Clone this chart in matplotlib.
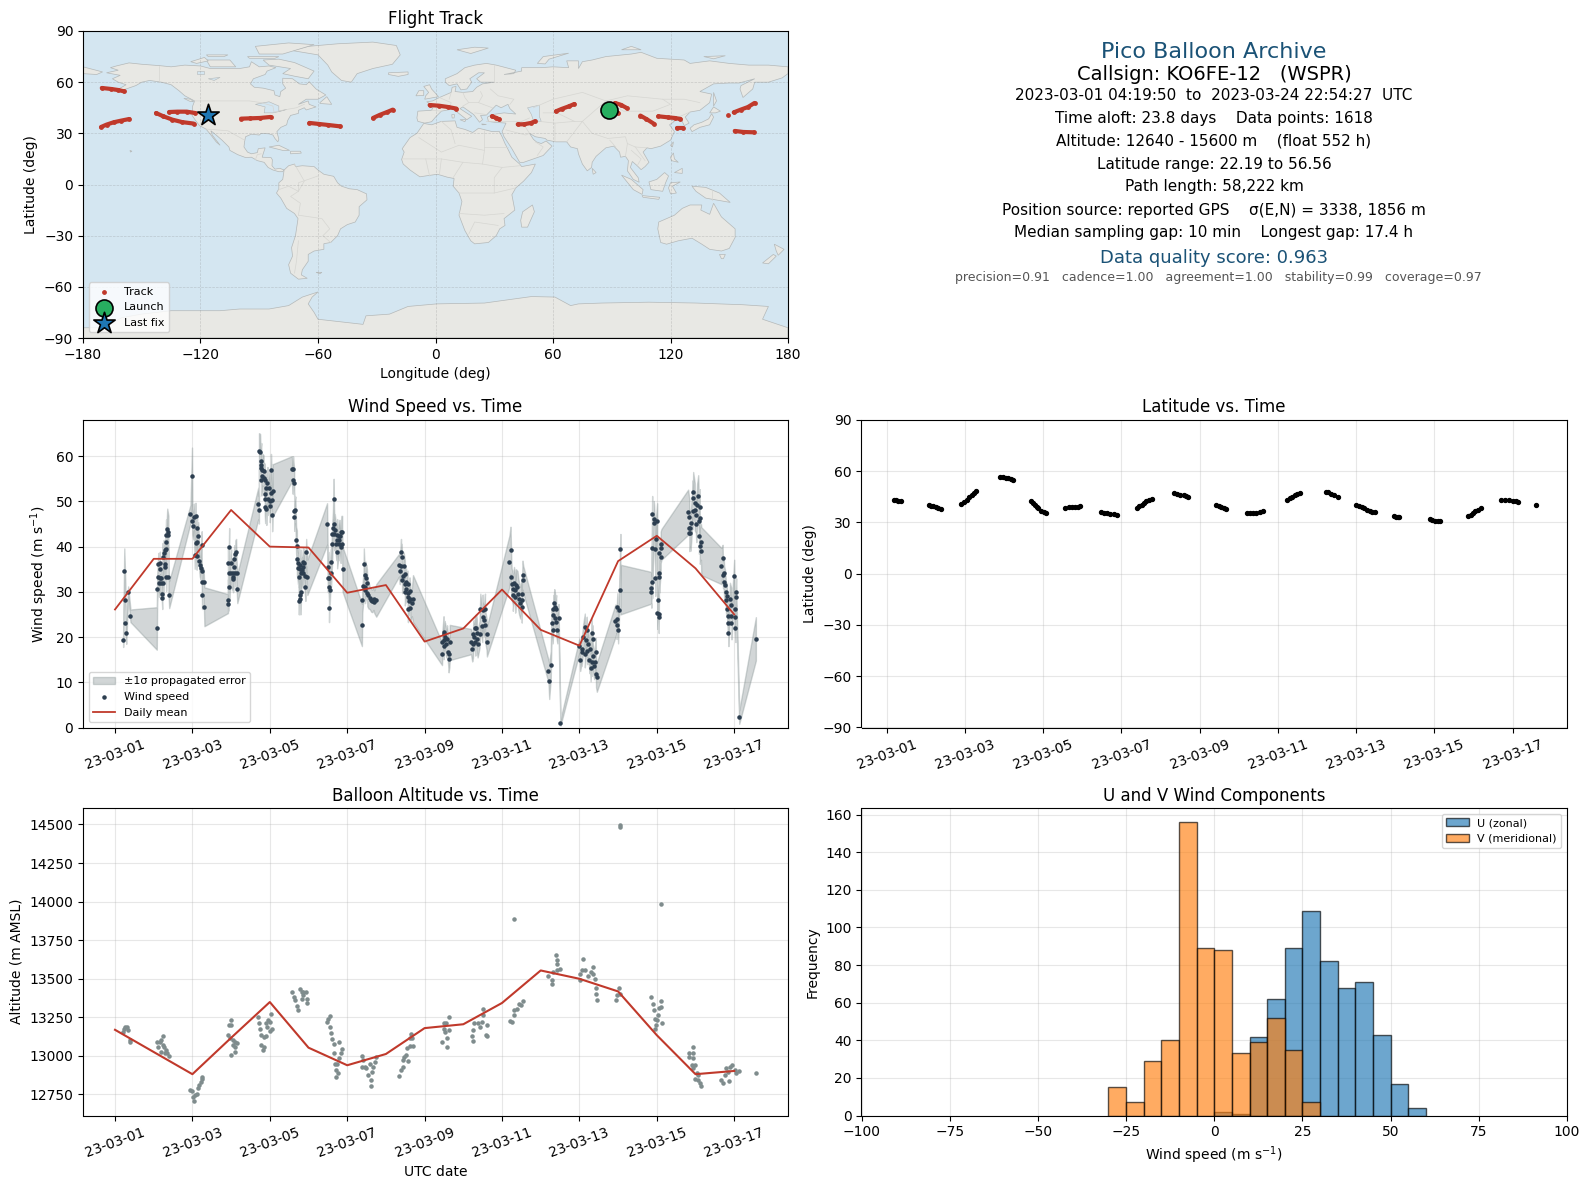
# -*- coding: utf-8 -*-
"""
Pico balloon flight summary
"""
import numpy as np
import pandas as pd
from matplotlib import pyplot as plt
from matplotlib.patches import Polygon

#%%======================================================
# flight track, one list per stretch (lon, lat)
track_segments = [
    [(-170.4, 56.6), (-165.6, 56), (-162, 55.4), (-159, 54.6)],
    [(-170.8, 33.7), (-168, 35.1), (-164.3, 36.5), (-160.7, 37.4), (-156.4, 38.4)],
    [(-142.7, 41.9), (-139, 40), (-134.3, 38), (-129.4, 36.6), (-123.4, 35.7)],
    [(-136, 42.5), (-131.8, 42.7), (-127, 42.7), (-122.7, 41.9)],
    [(-99.3, 38.6), (-94.5, 38.8), (-89.7, 39), (-84.2, 39.6)],
    [(-64.4, 36.1), (-59.6, 35.5), (-54.8, 34.9), (-48.8, 34.1)],
    [(-31.9, 39), (-28.3, 40.9), (-24.7, 42.5), (-21.8, 43.9)],
    [(-3, 46.6), (1.8, 46.2), (6.6, 45.4), (10.7, 44.5)],
    [(28.8, 40), (30.7, 39.2), (32.6, 38.2)],
    [(42, 35.3), (45.1, 35.3), (48.8, 36.1), (50.7, 37)],
    [(61.5, 42.9), (64.4, 44.3), (68, 45.8), (70.9, 47.2)],
    [(91.6, 47.8), (94.5, 46.8), (97.6, 44.9)],
    [(93.3, 41.9), (91.5, 43.5)],
    [(104.6, 40.4), (107.7, 38.4), (111.4, 35.7)],
    [(113.8, 40), (118.6, 39.4), (122.2, 39), (125.1, 38.4)],
    [(123.4, 33.1), (126.3, 33.1)],
    [(152.3, 42.3), (155.9, 43.9), (159.5, 45.4), (162.9, 47.8)],
    [(149.4, 40.8)],
    [(152.8, 31.4), (157.1, 30.8), (162.4, 30.6)],
]
launch_pos = (88.5, 43.5)
last_pos = (-116, 40.6)

# coarse coastlines (lon, lat)
north_america = [(-168, 65.5), (-164, 66.5), (-162, 67), (-166, 68.5), (-163, 69.5), (-156.5, 71.3), (-150, 70.5), (-141, 69.7), (-135, 69), (-128, 70), (-120, 69.5), (-115, 68), (-108, 68), (-100, 68), (-95, 69), (-94, 72), (-90, 69), (-85, 69.5), (-81.5, 68.5), (-86, 66.5), (-87, 64.5), (-93, 62), (-94.5, 59), (-92.5, 57), (-88, 56.5), (-82.5, 55), (-82, 52.5), (-79.5, 51.5), (-79, 54.5), (-76.5, 56.5), (-78, 59), (-78, 62.3), (-73, 62), (-69.5, 59), (-66, 58.5), (-64.5, 60.3), (-61, 56), (-56, 52.5), (-60, 50), (-66, 50), (-70, 47), (-65, 49), (-64.5, 47), (-61, 45.5), (-66, 43.7), (-67, 45), (-70, 43.5), (-70, 41.7), (-74, 40.5), (-75.5, 37.5), (-76, 35), (-79, 33.5), (-81, 31), (-80, 26.5), (-80.5, 25), (-82, 27), (-83, 29), (-85, 29.7), (-89, 30), (-90, 29), (-94, 29.5), (-97, 28), (-97.5, 25), (-97.8, 22), (-96, 19), (-94, 18), (-91, 18.7), (-90.5, 21), (-87, 21.5), (-88, 18), (-88.5, 16), (-84, 15.8), (-83.3, 14.5), (-83.5, 11), (-82, 9), (-79.5, 9.5), (-77.3, 8.5), (-78, 7.5), (-80, 7.5), (-83, 8.5), (-85.5, 10), (-87.5, 13), (-91, 14), (-94, 16), (-97, 15.8), (-101, 17.5), (-105, 20), (-105.5, 22), (-109, 26), (-112.5, 29.5), (-114.7, 31.5), (-114, 29), (-110, 23), (-112, 25), (-115, 29.5), (-117.2, 32.5), (-120.5, 34.5), (-122.5, 37.5), (-124.3, 40.5), (-124, 46), (-123, 49), (-128, 52), (-131, 55), (-135, 58.5), (-140, 60), (-146, 61), (-150, 60), (-153, 58), (-158, 56), (-164, 54.5), (-158, 58.5), (-162, 60), (-165, 62), (-161, 64)]
south_america = [(-77.3, 8.5), (-75, 11), (-72, 12), (-71.5, 10.5), (-68, 11), (-62, 10.5), (-60, 8.5), (-57, 6), (-52, 4.8), (-50, 1), (-48, -1), (-44, -2.5), (-40, -3), (-35.2, -5.5), (-35, -9), (-39, -13), (-39, -18), (-41, -22), (-45, -23.5), (-48.5, -26), (-50, -30), (-53.5, -34), (-57, -34.7), (-57, -38), (-62, -39), (-65, -41), (-65, -45), (-68, -50), (-68.5, -53), (-65.5, -55), (-70, -55.5), (-74, -52), (-75, -47), (-73, -42), (-73.5, -37), (-71.5, -30), (-70.2, -20), (-72, -17), (-76, -14), (-79, -8), (-81.2, -5), (-80, -2.5), (-80, 1), (-78, 3), (-77.5, 7)]
africa = [(-6, 35.8), (-2, 35), (3, 37), (10, 37.3), (11, 33.5), (15, 32.3), (19, 30.5), (22, 33), (29, 31), (32.5, 31.2), (34, 28), (35.5, 24), (37.3, 20), (39, 16), (43, 12), (44, 10.5), (51, 12), (49, 7), (45, 2), (41, -2), (39, -6), (40.5, -15), (35, -20), (35.5, -24), (32.8, -26), (31, -30), (27, -34), (20, -34.8), (18, -33), (15, -27), (12, -18), (13.5, -10), (12, -5), (9, -1), (9.5, 3.5), (6, 4.3), (1, 6), (-4, 5.2), (-8, 4.5), (-13, 8.5), (-16.5, 12), (-17.3, 14.7), (-16, 19), (-17, 21), (-13, 27.5), (-9.5, 30)]
eurasia = [(-9, 37), (-9.5, 39), (-9, 43), (-2, 43.5), (-1, 46), (-4.5, 48.5), (-1.5, 49), (2, 51), (4, 52), (8, 54), (8.5, 57), (10.5, 57.5), (10, 54.5), (14, 54), (19, 54.5), (21, 57), (24, 59), (30, 60), (23, 60), (21, 62), (25, 65.5), (22, 65.5), (17.5, 62), (18.5, 60), (16, 56), (13, 55.5), (11, 59), (7, 58), (5, 60), (5, 62), (11, 65), (15, 68.5), (20, 70), (26, 71), (31, 70), (41, 67), (40, 65), (35, 64.5), (44, 66.5), (44, 68.5), (54, 68.5), (60, 69), (68, 68.5), (67, 72.5), (73, 72.5), (73, 68), (75, 72), (80, 73), (87, 75), (100, 76.5), (105, 77.5), (113, 74), (127, 73), (130, 71), (140, 72.5), (150, 71), (160, 70), (170, 70), (180, 69), (180, 65), (177, 62.5), (170, 60), (163, 60), (162, 56), (157, 51), (155.5, 56), (156, 58), (163, 62), (155, 59.5), (150, 59.5), (142, 59), (135, 54.5), (141, 53), (140, 48), (135, 43.5), (130, 42.5), (127.5, 39.5), (129.5, 36), (127, 34.5), (126, 37), (125, 39.7), (121.5, 39), (118, 39), (122, 37), (119.5, 35), (122, 31), (120, 26), (115, 22.5), (110, 21), (108, 21.5), (106, 19), (109, 13), (107, 10.5), (105, 8.7), (103, 11), (100.5, 13.5), (99.5, 10), (103.5, 4), (104, 1.3), (101, 3), (98, 8), (98.5, 14), (97, 16.5), (94.5, 16), (94, 19), (91, 22.5), (87, 21.5), (82, 16.5), (80, 13), (79.7, 10), (77.5, 8), (75, 12), (73, 18), (72.5, 21), (69, 22), (67, 25), (61.5, 25), (57, 26), (56, 27), (51, 28), (48, 30), (50, 26.5), (51.5, 25), (54, 24), (56.5, 25.5), (59.5, 22.5), (55, 17), (45, 13), (43, 13), (39, 21), (35, 28), (34, 31), (36, 36), (30, 36.5), (27, 37), (26.5, 39.5), (29, 41), (35, 42), (41, 41.3), (38, 44.5), (37, 47), (33.5, 45), (31, 46.5), (28, 43), (26, 40.7), (23, 40.5), (24, 38), (22.5, 36.5), (19.5, 41), (14, 45.5), (12.5, 44.5), (18.5, 40), (16, 38), (11, 42.5), (9, 44.3), (3, 43), (0, 39.5), (-2, 36.8), (-5.5, 36)]
chukotka = [(-180, 69), (-175, 67.5), (-170, 66), (-173, 64.5), (-180, 65)]
australia = [(114, -22), (122, -18), (126, -14), (130, -12), (136, -12), (135.5, -15), (140, -17.5), (142, -11), (146, -19), (153, -26), (153, -31), (150, -37.5), (146, -39), (140, -38), (136, -35), (131, -31.5), (124, -33), (118, -35), (115, -34), (113.5, -26)]
greenland = [(-73, 78.5), (-65, 81), (-50, 82.5), (-32, 83.5), (-20, 81.5), (-18, 76), (-22, 70.5), (-32, 68), (-40, 65), (-43, 60), (-48, 61), (-53, 66), (-55, 70), (-60, 76)]
antarctica = [(-180, -84), (-170, -84), (-160, -78), (-150, -76), (-135, -74), (-110, -74), (-100, -73), (-85, -73), (-75, -71), (-68, -66), (-60, -63), (-63, -66), (-65, -70), (-62, -75), (-60, -79), (-37, -82), (-35.5, -77), (-23.5, -76), (-14, -71.5), (0.6, -70), (25, -69.5), (49, -65.7), (61, -66), (69, -71), (73, -70), (85, -69.5), (109, -69), (133, -69.5), (157, -70.5), (170, -71.5), (167, -79), (180, -84), (180, -90), (-180, -90)]
islands = [
    [(-80, 73.5), (-72, 71.5), (-62, 66.5), (-65, 62), (-72, 63.5), (-78, 65), (-74, 68), (-85, 70), (-88, 73)],
    [(-117, 73), (-105, 73), (-102, 69), (-115, 69)],
    [(-90, 76.5), (-78, 76.5), (-62, 82), (-75, 83), (-92, 81)],
    [(-125, 72), (-118, 74.5), (-116, 72.5), (-122, 71)],
    [(-96, 75), (-80, 75), (-82, 74), (-95, 74)],
    [(-117, 76), (-106, 76), (-108, 75), (-116, 75)],
    [(-59, 48), (-55.5, 51.5), (-53, 47), (-59, 47.5)],
    [(-85, 22), (-80, 23), (-74.5, 20), (-78, 20)],
    [(-74, 19.5), (-69, 19.5), (-68.5, 18.4), (-74, 18)],
    [(-156, 20), (-155, 19.5), (-155.8, 19)],
    [(-128.5, 50.5), (-125, 50), (-123.5, 48.5), (-125.5, 48.8)],
    [(49.5, -12), (50.5, -16), (47, -25), (44, -25), (43.5, -21), (44.5, -16)],
    [(-5.5, 50), (1.5, 51.5), (0, 53.5), (-2, 56), (-3, 58.5), (-6, 57.5), (-3.5, 54), (-5, 52)],
    [(-10, 52), (-6, 52.2), (-6, 55), (-8.5, 55)],
    [(-24, 65.5), (-14, 66), (-14, 64.5), (-19, 63.4), (-24, 64.5)],
    [(11, 79), (20, 80.5), (27, 80), (18, 76.8)],
    [(52, 71), (55, 75), (68, 77), (58, 73.5), (56, 70.7)],
    [(95, 79), (105, 79), (100, 81)],
    [(137, 75), (148, 75.5), (142, 73.7)],
    [(142, 54), (143.5, 49), (142, 46), (142, 50)],
    [(130, 33), (131, 31), (135, 33.5), (140, 35), (142, 39.5), (141, 41.5), (139.5, 38.5), (136, 36.5), (132, 35)],
    [(140, 42), (142, 45.5), (145.5, 43), (143, 42)],
    [(120, 23), (121.5, 25), (121, 22)],
    [(120, 16), (121.5, 18.5), (122, 15), (124, 13), (120.5, 14)],
    [(122, 7), (126, 9.5), (126, 6.5)],
    [(109, 1.5), (113, 3), (117, 7), (119, 5), (117.5, 1), (116, -4), (110, -3)],
    [(95, 5.5), (100, 3), (106, -3), (105.5, -5.8), (101, -3)],
    [(105.5, -6.5), (114.5, -7.5), (114, -8.7), (106, -7.5)],
    [(120, 1), (125, 1.5), (121, -1), (123, -5), (120, -5.5), (119, -2)],
    [(131, -1), (138, -1.7), (145, -5), (150.5, -10.5), (143, -9), (138, -8), (133, -4)],
    [(145, -41), (148, -41), (147, -43.5), (146, -43.5)],
    [(173, -35), (178, -38), (175, -41.5), (174, -39)],
    [(172.5, -41), (174, -42), (170, -46.5), (167, -46)],
    [(80, 9.5), (82, 7), (80.5, 6)],
    [(-61, -51.5), (-58, -51.5), (-59, -52.3)],
    [(12.5, 38), (15.5, 38), (15, 36.8)],
    [(8.3, 41), (9.7, 41), (9.5, 39), (8.5, 39)],
    [(23.5, 35.5), (26, 35.2), (24, 35)],
]
lakes = [
    [(47, 45), (53, 46.5), (53, 40), (54, 37), (50, 37.3), (49, 41)],
    [(-92, 47), (-85, 48.5), (-80, 46), (-80, 43), (-76, 44), (-79, 43), (-83, 42), (-87.5, 42), (-87, 45.5)],
    [(-122, 66.5), (-118, 66.5), (-118, 65), (-122, 65)],
    [(-116, 62), (-110, 62.8), (-113, 61)],
]
borders = [
    [(-141, 69.7), (-141, 60)], [(-123, 49), (-95, 49), (-89, 48), (-83, 46), (-82.5, 42.5), (-76, 44), (-71, 45), (-67, 47)],
    [(-117.2, 32.5), (-106, 31.5), (-97.5, 26)], [(-92, 14.5), (-91, 17.5), (-89, 18)],
    [(-70, -18), (-69, -11), (-74, -7), (-70, -4), (-70, 1), (-60, 5)], [(-70, -18), (-58, -20), (-54, -26), (-57.5, -30), (-53.5, -34)],
    [(-70, -33), (-71, -45), (-72, -52)], [(-72, 12), (-67, 2), (-70, -4)], [(-80, -3), (-75, -1), (-70, -4)],
    [(-8.5, 27.5), (3, 19), (12, 23), (25, 20), (25, 31.5)], [(25, 22), (37, 22)], [(-17, 15), (-5, 15), (3, 15), (14, 13), (24, 12), (34, 10), (43, 11)],
    [(9, 4), (14, 13)], [(24, 12), (25, 20)], [(12, -5), (30, -5), (41, -2)], [(12, -17), (25, -18), (35, -17)], [(17, -29), (20, -22), (32, -24)],
    [(30, -5), (30, 4), (34, 10)], [(-5, 15), (-3, 5)], [(3, 15), (2, 6)], [(3, 37), (8, 32), (10, 24)],
    [(-2, 43.5), (3, 43)], [(2, 51), (8, 48), (7, 44)], [(8, 54), (7, 50)], [(14, 54), (15, 51), (17, 48), (22, 48), (24, 52), (23, 54.5)],
    [(28, 56), (32, 52), (40, 50), (38, 47)], [(30, 60), (30, 70)], [(22, 48), (29, 45)], [(14, 46), (17, 48)], [(20, 42), (26, 41)],
    [(26, 37), (44, 37), (48, 30)], [(36, 32), (46, 29), (48, 30)], [(44, 37), (48, 39)], [(61, 25), (61, 36), (53, 37)],
    [(61, 36), (71, 37), (75, 37), (71, 31), (67, 25)], [(50, 45), (60, 50), (75, 54), (87, 49), (98, 52), (116, 50), (127, 50), (135, 48)],
    [(87, 49), (96, 43), (111, 43), (120, 47), (116, 50)], [(75, 37), (80, 42), (87, 49)], [(75, 37), (80, 30), (88, 27), (97, 28), (98, 24), (102, 22), (108, 21.5)],
    [(89, 26), (92, 22)], [(97, 16.5), (98, 24)], [(100, 20), (105, 15), (103, 11)], [(102, 22), (107, 14)],
    [(130, 42.5), (125, 40)], [(141, -3), (141, -9)], [(55, 42), (62, 42), (71, 37)], [(52, 17), (55, 22), (51, 25)],
]

#%%======================================================
# wind speed points, one line per stretch of reports
wind_day = [
    0.21, 0.24, 0.27, 0.27, 0.29, 0.34, 0.40,
    1.08, 1.09, 1.12, 1.12, 1.14, 1.16, 1.16, 1.16, 1.20, 1.20, 1.22, 1.22, 1.23, 1.25, 1.26, 1.28, 1.30, 1.30, 1.32, 1.32, 1.33, 1.33, 1.35, 1.38, 1.38, 1.38, 1.40,
    1.95, 1.99, 2.00, 2.02, 2.04, 2.06, 2.08, 2.09, 2.11, 2.12, 2.12, 2.15, 2.18, 2.19, 2.21, 2.24, 2.24, 2.25, 2.26, 2.29, 2.31,
    2.92, 2.925, 2.92, 2.95, 2.95, 2.95, 3.00, 3.00, 3.04, 3.05, 3.05, 3.07, 3.08, 3.10, 3.11, 3.13, 3.14, 3.16,
    3.70, 3.72, 3.72, 3.75, 3.76, 3.78, 3.78, 3.78, 3.80, 3.81, 3.84, 3.84, 3.87, 3.87, 3.87, 3.88, 3.91, 3.91, 3.94, 3.95, 3.98, 4.00, 4.00, 4.02, 4.03, 4.06, 4.06, 4.07,
    4.57, 4.59, 4.60, 4.63, 4.63, 4.63, 4.66, 4.68, 4.70, 4.70, 4.73, 4.74, 4.75, 4.76, 4.77, 4.77, 4.79, 4.79, 4.80, 4.81, 4.84, 4.86, 4.86, 4.86, 4.89, 4.90, 4.92, 4.94, 4.97,
    5.48, 5.50, 5.51, 5.53, 5.53, 5.54, 5.55, 5.58, 5.58, 5.61, 5.62, 5.63, 5.65, 5.66, 5.67, 5.68, 5.72, 5.74, 5.74, 5.74, 5.79, 5.80, 5.80, 5.82, 5.83, 5.85, 5.87, 5.87, 5.88,
    6.38, 6.39, 6.42, 6.43, 6.46, 6.47, 6.47, 6.49, 6.51, 6.52, 6.55, 6.58, 6.62, 6.65, 6.68, 6.70, 6.75,
    7.34, 7.36, 7.39, 7.40, 7.41, 7.42, 7.45, 7.46, 7.49, 7.49, 7.49, 7.52, 7.52, 7.56, 7.56, 7.57, 7.58, 7.60, 7.61, 7.63, 7.63, 7.67, 7.70,
    8.45, 8.46, 8.49, 8.49, 8.49, 8.51, 8.53, 8.56, 8.58, 8.61, 8.62, 8.64, 8.65,
    9.20, 9.23, 9.25, 9.26, 9.28, 9.31, 9.31, 9.33, 9.35, 9.35, 9.37, 9.42, 9.44, 9.49, 9.50, 9.50, 9.54, 9.56, 9.56, 9.60, 9.61,
    10.19, 10.22, 10.24, 10.25, 10.28, 10.28, 10.31, 10.34, 10.34, 10.36, 10.40, 10.42, 10.44, 10.47, 10.51, 10.51, 10.51, 10.53, 10.55,
    11.20, 11.22, 11.26, 11.28, 11.31, 11.33, 11.33, 11.35, 11.37, 11.37, 11.40, 11.40, 11.43, 11.46, 11.51,
    12.00, 12.02, 12.06, 12.06, 12.10, 12.14, 12.14, 12.17, 12.19, 12.20, 12.23, 12.26, 12.27, 12.29, 12.32, 12.32, 12.34, 12.34, 12.38, 12.40, 12.42, 12.43, 12.45,
    12.93, 12.96, 12.96, 12.98, 13.00, 13.02, 13.06, 13.06,
    13.86, 13.86, 13.88, 13.88, 13.88, 13.92, 13.93, 13.96, 13.96, 13.97, 14.01, 14.01, 14.04, 14.05, 14.05, 14.06, 14.06, 14.06, 14.10, 14.10, 14.12,
    14.81, 14.84, 14.84, 14.84, 14.87, 14.87, 14.89, 14.93, 14.93, 14.94, 14.98, 14.98, 15.01, 15.02, 15.04, 15.07, 15.09, 15.09, 15.11, 15.11, 15.11, 15.14, 15.15,
    15.67, 15.70, 15.71, 15.73, 15.74, 15.76, 15.78, 15.79, 15.81, 15.82, 15.83, 15.85, 15.85, 15.89, 15.93, 15.93, 15.93, 16.00, 16.01, 16.02, 16.03, 16.05, 16.05, 16.13, 16.56,
]
wind_speed = [
    19.3, 34.7, 28.3, 23.2, 21.0, 30.0, 24.7,
    21.9, 30.7, 36.1, 33.3, 31.9, 36.4, 35.0, 33.0, 31.9, 33.0, 28.7, 29.5, 37.8, 31.9, 38.5, 36.1, 39.3, 35.4, 42.5, 33.2, 39.4, 41.1, 43.9, 43.3, 42.5, 33.2, 29.4,
    47.2, 55.6, 45.6, 44.6, 46.5, 38.1, 46.7, 40.7, 37.9, 44.1, 41.1, 42.4, 36.8, 35.9, 35.2, 40.4, 34.7, 29.2, 32.1, 32.1, 26.7,
    27.4, 28.3, 36.3, 39.9, 34.2, 31.1, 36.4, 34.2, 33.3, 34.1, 32.9, 35.6, 37.3, 34.2, 38.4, 38.7, 34.2, 30.7,
    49.5, 48.1, 61.1, 60.9, 58.0, 58.9, 57.4, 54.8, 55.6, 57.0, 56.7, 55.2, 54.8, 51.7, 50.5, 48.7, 53.0, 48.3, 54.1, 50.5, 53.0, 50.0, 48.9, 51.9, 57.0, 50.4, 46.9, 52.4,
    57.2, 54.7, 57.2, 54.1, 47.9, 46.5, 48.1, 41.4, 40.1, 37.2, 35.2, 36.3, 28.0, 33.2, 35.0, 29.3, 35.9, 28.5, 29.9, 34.1, 34.8, 36.7, 35.6, 34.1, 36.4, 33.6, 31.0, 38.7, 33.2,
    45.0, 33.0, 35.4, 31.1, 26.5, 33.0, 30.4, 36.5, 34.1, 40.5, 42.7, 44.1, 50.5, 45.0, 42.7, 43.7, 40.5, 42.6, 41.5, 38.7, 42.4, 41.5, 40.5, 42.4, 39.9, 43.3, 43.3, 40.5, 35.0,
    22.7, 28.3, 31.3, 36.1, 30.5, 33.7, 31.1, 33.0, 32.0, 29.8, 29.3, 28.7, 28.1, 28.0, 28.5, 27.8, 28.1,
    35.9, 34.7, 38.7, 35.7, 37.6, 32.7, 33.6, 35.7, 33.9, 31.7, 30.0, 32.2, 30.7, 31.7, 29.8, 26.3, 28.9, 27.9, 30.2, 28.5, 26.5, 27.6, 28.5,
    16.3, 18.9, 21.1, 19.3, 18.1, 20.6, 20.1, 18.5, 19.6, 16.7, 15.2, 16.3, 18.8,
    19.0, 17.4, 18.4, 20.7, 20.0, 21.9, 18.9, 22.0, 20.9, 19.6, 18.5, 20.6, 26.1, 22.4, 25.9, 24.4, 23.7, 26.1, 22.6, 20.7, 19.0,
    36.7, 39.2, 33.2, 31.7, 30.7, 29.3, 32.0, 30.4, 28.9, 31.5, 31.1, 29.5, 28.5, 27.6, 29.5, 28.1, 26.7, 33.7, 32.7,
    12.5, 10.3, 13.9, 23.2, 21.6, 26.3, 24.8, 27.6, 26.7, 24.3, 26.3, 23.3, 21.6, 24.3, 1.1,
    18.1, 15.0, 17.4, 16.7, 20.0, 22.2, 16.3, 19.3, 21.5, 17.0, 18.5, 15.0, 17.4, 13.2, 21.0, 14.4, 19.6, 15.9, 13.7, 14.4, 16.8, 11.9, 11.1,
    23.6, 23.9, 22.6, 26.7, 21.6, 25.9, 39.4, 30.5,
    30.9, 30.0, 47.2, 39.6, 32.1, 46.1, 45.3, 39.4, 33.1, 41.7, 45.6, 25.3, 28.3, 25.0, 24.4, 38.5, 34.1, 33.3, 37.6, 39.8, 40.5,
    47.6, 46.5, 44.1, 43.0, 44.1, 43.1, 45.2, 50.7, 47.9, 52.0, 49.6, 48.1, 47.0, 45.0, 49.3, 51.3, 45.6, 42.4, 48.7, 46.3, 40.2, 41.1, 39.0,
    35.7, 37.4, 33.8, 34.1, 32.2, 31.5, 30.0, 28.1, 29.0, 26.3, 24.6, 23.0, 21.0, 28.5, 27.2, 24.6, 23.0, 33.6, 26.3, 24.4, 21.9, 30.0, 28.9, 2.3, 19.6,
]
wind_err = [
    1.5, 4.9, 3.0, 2.5, 2.5, 1.2, 1.4,
    4.7, 3.0, 2.5, 3.0, 3.0, 2.5, 3.0, 3.0, 3.0, 3.0, 2.5, 2.5, 3.0, 3.0, 3.0, 3.0, 3.0, 3.0, 3.5, 3.0, 3.5, 3.5, 4.5, 3.5, 3.5, 3.0, 3.0,
    2.0, 6.3, 3.0, 3.0, 3.0, 3.0, 3.0, 3.0, 3.0, 3.0, 3.0, 3.0, 2.5, 2.5, 2.5, 3.0, 2.5, 3.0, 3.0, 3.0, 4.3,
    2.1, 2.5, 3.5, 4.2, 3.0, 3.0, 3.0, 3.0, 3.0, 3.0, 3.0, 3.0, 3.0, 3.0, 3.0, 3.0, 3.0, 3.2,
    3.5, 3.0, 4.0, 4.0, 3.5, 4.0, 4.0, 3.5, 3.5, 3.5, 3.5, 3.5, 3.5, 3.5, 3.5, 3.5, 3.5, 3.5, 3.5, 3.5, 3.5, 3.5, 3.5, 3.5, 3.5, 3.5, 3.5, 5.8,
    2.8, 3.0, 2.8, 3.0, 3.0, 3.0, 3.0, 3.0, 3.5, 3.5, 3.5, 3.5, 3.0, 3.5, 3.5, 3.5, 3.5, 3.5, 3.5, 3.5, 3.0, 3.0, 3.0, 3.0, 3.0, 3.0, 3.0, 3.0, 3.9,
    4.6, 3.0, 3.5, 3.5, 3.2, 3.0, 3.0, 3.0, 3.0, 4.0, 3.5, 3.5, 4.5, 3.5, 3.5, 3.5, 3.5, 3.5, 3.5, 3.5, 3.5, 3.5, 3.5, 3.5, 3.5, 3.5, 3.5, 3.5, 5.0,
    4.7, 3.0, 3.0, 3.5, 3.0, 3.0, 3.0, 3.0, 3.0, 3.0, 3.0, 2.5, 2.5, 2.5, 2.5, 2.5, 3.6,
    2.5, 3.0, 3.0, 3.0, 3.0, 3.0, 3.0, 3.0, 3.0, 3.0, 3.0, 3.0, 3.0, 3.0, 3.0, 3.0, 3.0, 3.0, 3.0, 3.0, 3.0, 3.0, 5.2,
    2.5, 2.5, 3.5, 3.0, 3.0, 3.0, 3.0, 3.0, 3.0, 3.0, 3.0, 3.0, 3.9,
    2.8, 2.8, 3.0, 3.0, 3.0, 3.0, 3.0, 3.0, 3.0, 3.0, 3.0, 3.0, 3.5, 3.5, 3.5, 3.5, 3.5, 3.5, 3.5, 3.5, 3.3,
    5.7, 5.2, 4.0, 3.5, 3.5, 3.5, 3.5, 3.5, 3.5, 3.5, 3.5, 3.5, 3.5, 3.5, 3.5, 3.5, 3.5, 3.2, 3.0,
    2.5, 4.0, 3.0, 3.0, 3.0, 3.0, 3.0, 3.0, 3.0, 3.0, 3.0, 3.0, 3.0, 3.0, 0.7,
    1.6, 2.5, 3.0, 3.0, 3.0, 3.0, 3.0, 3.0, 3.0, 3.0, 3.0, 3.0, 3.0, 3.0, 3.0, 3.0, 3.0, 3.0, 3.0, 3.0, 3.0, 3.0, 3.2,
    3.6, 3.0, 3.0, 3.0, 3.0, 3.0, 3.4, 5.5,
    3.5, 3.5, 4.0, 4.0, 3.5, 4.0, 4.0, 4.0, 4.0, 4.0, 4.0, 3.5, 3.5, 3.5, 3.5, 3.5, 3.5, 3.5, 3.5, 3.5, 3.4,
    5.0, 4.0, 4.0, 4.0, 4.0, 4.0, 4.0, 4.0, 4.0, 4.5, 4.5, 4.5, 4.0, 4.0, 4.5, 4.5, 4.0, 4.0, 4.0, 4.0, 4.0, 4.0, 5.3,
    4.0, 3.0, 3.0, 3.5, 3.5, 3.5, 3.0, 3.0, 3.0, 3.0, 3.0, 3.0, 3.0, 3.5, 3.5, 3.5, 3.5, 3.5, 3.5, 3.5, 3.0, 3.0, 3.0, 1.5, 4.8,
]
mean_day = [0, 1, 2, 3, 4, 5, 6, 7, 8, 9, 10, 11, 12, 13, 14, 15, 16]
wind_mean = [26.1, 37.3, 37.3, 48.1, 40.0, 39.8, 29.8, 31.5, 19.0, 21.9, 30.5, 21.6, 18.1, 36.8, 42.4, 35.2, 25.0]

# latitude, one line per stretch
lat_day = [
    0.18, 0.24, 0.30, 0.37,
    1.07, 1.13, 1.19, 1.25, 1.31, 1.38,
    1.91, 1.98, 2.05, 2.11, 2.17, 2.23, 2.29,
    2.89, 2.97, 3.04, 3.10, 3.17, 3.23,
    3.68, 3.73, 3.78, 3.83, 3.88, 3.95, 4.02, 4.08,
    4.57, 4.65, 4.73, 4.81, 4.88, 4.95,
    5.48, 5.56, 5.64, 5.72, 5.80, 5.88,
    6.40, 6.46, 6.52, 6.58, 6.64, 6.70, 6.77,
    7.35, 7.43, 7.51, 7.59, 7.66, 7.71,
    8.43, 8.49, 8.55, 8.61, 8.67,
    9.21, 9.29, 9.37, 9.45, 9.53, 9.62,
    10.23, 10.30, 10.37, 10.44, 10.50, 10.56,
    11.22, 11.29, 11.36, 11.43, 11.53,
    12.00, 12.07, 12.14, 12.21, 12.28, 12.35, 12.41, 12.47,
    12.98, 13.02, 13.06, 13.10,
    13.89, 13.95, 14.02, 14.08, 14.14,
    14.87, 14.93, 14.99, 15.05, 15.12, 15.19,
    15.71, 15.80, 15.90, 16.00, 16.08, 16.15,
    16.61,
]
lat_deg = [
    43.3, 42.9, 42.7, 42.3,
    40.1, 39.7, 39.4, 39.0, 38.6, 38.1,
    41.1, 42.0, 43.3, 44.8, 46.0, 47.3, 48.5,
    56.8, 56.5, 56.2, 55.8, 55.3, 54.8,
    42.7, 41.5, 40.3, 39.2, 38.2, 37.0, 36.2, 35.7,
    38.6, 38.8, 38.9, 39.0, 39.3, 39.6,
    36.0, 35.6, 35.3, 35.0, 34.8, 34.6,
    38.4, 39.5, 40.5, 41.6, 42.4, 43.0, 43.5,
    47.0, 46.7, 46.3, 45.9, 45.4, 45.1,
    40.1, 39.6, 39.0, 38.4, 37.8,
    35.3, 35.3, 35.4, 35.6, 36.0, 36.5,
    43.1, 44.2, 45.2, 46.0, 46.8, 47.4,
    48.1, 47.6, 46.9, 46.0, 45.0,
    40.5, 39.7, 38.9, 38.2, 37.5, 36.9, 36.4, 35.9,
    33.8, 33.5, 33.2, 33.0,
    31.8, 31.5, 31.1, 30.8, 30.6,
    33.7, 34.6, 35.5, 36.5, 37.5, 38.3,
    43.1, 43.2, 43.1, 42.7, 42.4, 42.2,
    40.5,
]

# altitude, one line per stretch
alt_day = [
    0.21, 0.23, 0.26, 0.30, 0.34, 0.40, 0.40,
    1.09, 1.12, 1.16, 1.20, 1.20, 1.23, 1.25, 1.27, 1.29, 1.32, 1.35, 1.39,
    1.95, 2.00, 2.02, 2.04, 2.06, 2.11, 2.14, 2.18, 2.21, 2.24, 2.26,
    2.92, 2.95, 2.97, 2.99, 3.00, 3.00, 3.04, 3.05, 3.10, 3.11, 3.11, 3.14,
    3.70, 3.71, 3.74, 3.77, 3.78, 3.83, 3.84, 3.84, 3.90, 3.91, 3.93, 3.96, 4.00, 4.00, 4.02, 4.06,
    4.58, 4.62, 4.66, 4.69, 4.74, 4.77, 4.82, 4.82, 4.86, 4.86, 4.93, 4.96, 4.96,
    5.48, 5.50, 5.55, 5.56, 5.59, 5.61, 5.65, 5.67, 5.68, 5.70, 5.72, 5.74, 5.76, 5.80, 5.80, 5.85, 5.86,
    6.38, 6.39, 6.41, 6.45, 6.49, 6.53, 6.58, 6.61, 6.62, 6.65, 6.66, 6.71, 6.75,
    7.35, 7.39, 7.44, 7.45, 7.48, 7.52, 7.54, 7.57, 7.61, 7.61, 7.65, 7.68, 7.70,
    8.45, 8.49, 8.51, 8.53, 8.56, 8.58, 8.58, 8.62, 8.64,
    9.22, 9.24, 9.25, 9.28, 9.37, 9.42, 9.48, 9.52, 9.52, 9.58, 9.60, 9.61,
    10.21, 10.27, 10.30, 10.30, 10.31, 10.38, 10.44, 10.49, 10.54,
    11.20, 11.28, 11.30, 11.33, 11.39, 11.41, 11.41, 11.43, 11.50,
    12.02, 12.02, 12.06, 12.10, 12.14, 12.23, 12.29, 12.34, 12.36, 12.40, 12.42, 12.42, 12.45,
    12.94, 12.96, 13.02, 13.05, 13.06, 13.06,
    13.86, 13.89, 13.93, 13.95, 13.96, 13.97, 14.01, 14.04, 14.06, 14.10, 14.11, 14.11, 14.13,
    14.82, 14.84, 14.90, 14.93, 14.94, 14.94, 14.94, 14.98, 14.99, 15.03, 15.07, 15.07, 15.11, 15.15,
    15.67, 15.71, 15.76, 15.80, 15.84, 15.87, 15.88, 15.95, 16.01, 16.05, 16.12, 16.56,
]
alt_m = [
    13155, 13170, 13183, 13183, 13166, 13090, 13105,
    13090, 13058, 13090, 13101, 13026, 13069, 13131, 13058, 13015, 13037, 13015, 13000,
    12778, 12772, 12735, 12707, 12746, 12753, 12789, 12811, 12832, 12847, 12864,
    13133, 13198, 13112, 13230, 13198, 13002, 13101, 13069, 13086, 13054, 13022, 13080,
    13252, 13209, 13176, 13133, 13069, 13037, 13123, 13058, 13209, 13129, 13187, 13230, 13219, 13161, 13269, 13176,
    13415, 13381, 13359, 13320, 13295, 13435, 13413, 13370, 13413, 13391, 13413, 13370, 13344,
    13219, 13241, 13256, 13183, 13144, 13108, 13075, 13015, 12944, 12907, 12864, 12944, 12886, 13090, 12983, 13015, 13041,
    13000, 12929, 12972, 12929, 12918, 12875, 12944, 12804, 12843, 12897, 12929, 12961, 12989,
    12869, 12907, 12972, 12929, 12994, 13004, 13047, 12968, 13065, 13118, 13140, 13112, 13065,
    13086, 13209, 13176, 13155, 13209, 13112, 13058, 13252, 13166,
    13127, 13095, 13166, 13209, 13209, 13187, 13219, 13305, 13262, 13133, 13198, 13127,
    13226, 13219, 13295, 13888, 13262, 13305, 13338, 13327, 13355,
    13514, 13467, 13493, 13542, 13654, 13622, 13553, 13592, 13564,
    13531, 13488, 13553, 13628, 13553, 13520, 13542, 13574, 13531, 13499, 13441, 13402, 13363,
    13359, 13391, 13441, 13402, 14499, 14485,
    13381, 13338, 13295, 13241, 13176, 13198, 13230, 13267, 13312, 13983, 13316, 13355, 13215,
    13015, 12994, 12940, 12983, 13054, 13015, 12918, 12940, 12847, 12890, 12843, 12875, 12821, 12804,
    12843, 12821, 12875, 12918, 12897, 12839, 12929, 12940, 12907, 12886, 12903, 12886,
]
alt_mean = [13168, 13024, 12880, 13116, 13348, 13052, 12938, 13011, 13179, 13204, 13342, 13553, 13499, 13417, 13133, 12880, 12901]

# histogram counts per 5 m/s bin
u_edges = [0, 5, 10, 15, 20, 25, 30, 35, 40, 45, 50, 55]
u_counts = [2, 1, 42, 62, 89, 109, 82, 68, 71, 43, 17, 4]
v_edges = [-30, -25, -20, -15, -10, -5, 0, 5, 10, 15, 20, 25]
v_counts = [15, 7, 29, 40, 156, 89, 88, 33, 39, 52, 35, 7]

date_ticks = pd.date_range('2023-03-01', '2023-03-17', freq='2D')
start_date = pd.Timestamp('2023-03-01')

info_lines = [
    ('Pico Balloon Archive', 16, '#1a5276', 51.5),
    ('Callsign: KO6FE-12   (WSPR)', 14, 'black', 74),
    ('2023-03-01 04:19:50  to  2023-03-24 22:54:27  UTC', 11, 'black', 95),
    ('Time aloft: 23.8 days    Data points: 1618', 11, 'black', 118),
    ('Altitude: 12640 - 15600 m    (float 552 h)', 11, 'black', 140.5),
    ('Latitude range: 22.19 to 56.56', 11, 'black', 164),
    ('Path length: 58,222 km', 11, 'black', 187),
    ('Position source: reported GPS    σ(E,N) = 3338, 1856 m', 11, 'black', 210),
    ('Median sampling gap: 10 min    Longest gap: 17.4 h', 11, 'black', 233),
    ('Data quality score: 0.963', 13, '#1a5276', 258),
    ('precision=0.91   cadence=1.00   agreement=1.00   stability=0.99   coverage=0.97', 9, '#555555', 278),
]

#%%======================================================
RED = '#c0392b'
W, H = 1589, 1189
fig = plt.figure(figsize=(W / 100, H / 100), dpi=100)


def px_axes(left, top, right, bottom):
    return fig.add_axes([left / W, 1 - bottom / H, (right - left) / W, (bottom - top) / H])


def to_time(days):
    return start_date + pd.to_timedelta(np.asarray(days, dtype=float), unit='D')


def time_axis(ax, d0, d1):
    ax.set_xlim(start_date + pd.Timedelta(days=d0), start_date + pd.Timedelta(days=d1))
    ax.set_xticks(date_ticks)
    ax.set_xticklabels([d.strftime('%y-%m-%d') for d in date_ticks], rotation=20)
    ax.grid(True, alpha=0.3)
    ax.set_axisbelow(True)


#%% track map
axMap = px_axes(83, 31, 788, 338)
axMap.set_facecolor('#d4e6f1')
land = [north_america, south_america, africa, eurasia, chukotka, australia, greenland, antarctica] + islands
for poly in land:
    axMap.add_patch(Polygon(poly, closed=True, facecolor='#e8e8e4', edgecolor='#b4b8b8', linewidth=0.5, zorder=1))
for poly in lakes:
    axMap.add_patch(Polygon(poly, closed=True, facecolor='#d4e6f1', edgecolor='#b4b8b8', linewidth=0.4, zorder=1.1))
for line in borders:
    xy = np.array(line)
    axMap.plot(xy[:, 0], xy[:, 1], color='#d6d6d2', lw=0.5, zorder=1.2)
for seg in track_segments:
    xy = np.array(seg)
    axMap.plot(xy[:, 0], xy[:, 1], color=RED, lw=3.0, solid_capstyle='round', zorder=3)
track_all = np.array([p for seg in track_segments for p in seg])
axMap.scatter(track_all[:, 0], track_all[:, 1], s=6, color=RED, label='Track', zorder=3)
axMap.scatter(*launch_pos, s=150, color='#27ae60', edgecolor='black', linewidth=1.2, label='Launch', zorder=5)
axMap.scatter(*last_pos, s=260, marker='*', color='#1f77b4', edgecolor='black', linewidth=1.2, label='Last fix', zorder=5)
axMap.set_xlim(-180, 180)
axMap.set_ylim(-90, 90)
axMap.set_xticks(np.arange(-180, 181, 60))
axMap.set_yticks(np.arange(-90, 91, 30))
axMap.grid(True, linestyle='--', color='gray', linewidth=0.5, alpha=0.3, zorder=2)
axMap.set_xlabel('Longitude (deg)')
axMap.set_ylabel('Latitude (deg)')
axMap.set_title('Flight Track', fontsize=12, pad=5)
axMap.legend(loc='lower left', fontsize=8, labelspacing=0.5, borderpad=0.4)

#%% summary text
for txt, size, col, ypos in info_lines:
    xpos = 1218 if size == 9 else 1214
    fig.text(xpos / W, 1 - ypos / H, txt, fontsize=size, color=col, ha='center', va='center')

#%% wind
order = np.argsort(wind_day, kind='stable')
wd = to_time(np.array(wind_day)[order])
ws = np.array(wind_speed)[order]
we = np.array(wind_err)[order]
axWind = px_axes(83, 420, 788, 727.5)
axWind.fill_between(wd, ws - we, ws + we, color='#7f8c8d', alpha=0.35, label='±1σ propagated error')
axWind.scatter(wd, ws, s=5, color='#2c3e50', label='Wind speed', zorder=3)
axWind.plot(to_time(mean_day), wind_mean, color=RED, lw=1.3, label='Daily mean', zorder=4)
time_axis(axWind, -0.827, 17.39)
axWind.set_ylim(0, 68)
axWind.set_ylabel('Wind speed (m s$^{-1}$)')
axWind.set_title('Wind Speed vs. Time', fontsize=12)
axWind.legend(loc='lower left', fontsize=8)

#%% latitude
axLat = px_axes(861.5, 420, 1567, 727.5)
axLat.scatter(to_time(lat_day), lat_deg, s=8, color='black', zorder=3)
time_axis(axLat, -0.644, 17.39)
axLat.set_ylim(-90, 90)
axLat.set_yticks(np.arange(-90, 91, 30))
axLat.set_ylabel('Latitude (deg)')
axLat.set_title('Latitude vs. Time', fontsize=12)

#%% altitude
axAlt = px_axes(83, 808, 788, 1115.5)
axAlt.scatter(to_time(alt_day), alt_m, s=5, color='#7f8c8d', zorder=3)
axAlt.plot(to_time(mean_day), alt_mean, color=RED, lw=1.5, zorder=4)
time_axis(axAlt, -0.827, 17.39)
axAlt.set_ylim(12612, 14607)
axAlt.set_yticks(np.arange(12750, 14501, 250))
axAlt.set_xlabel('UTC date')
axAlt.set_ylabel('Altitude (m AMSL)')
axAlt.set_title('Balloon Altitude vs. Time', fontsize=12, pad=5)

#%% components histogram
axHist = px_axes(861.5, 808, 1567, 1115.5)
axHist.bar(u_edges, u_counts, width=5, align='edge', color='#1f77b4', alpha=0.65, edgecolor='black', label='U (zonal)')
axHist.bar(v_edges, v_counts, width=5, align='edge', color='#ff7f0e', alpha=0.65, edgecolor='black', label='V (meridional)')
axHist.set_xlim(-100, 100)
axHist.set_ylim(0, 163.5)
axHist.set_xticks(np.arange(-100, 101, 25))
axHist.set_yticks(np.arange(0, 161, 20))
axHist.grid(True, alpha=0.3)
axHist.set_axisbelow(True)
axHist.set_xlabel('Wind speed (m s$^{-1}$)')
axHist.set_ylabel('Frequency')
axHist.set_title('U and V Wind Components', fontsize=12, pad=5)
axHist.legend(loc='upper right', fontsize=8)

plt.savefig('out.png', dpi=100)
